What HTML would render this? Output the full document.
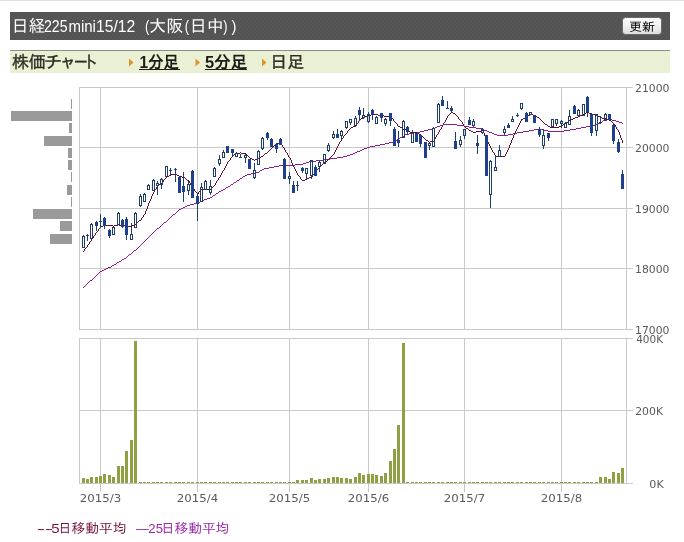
<!DOCTYPE html>
<html lang="ja"><head><meta charset="utf-8"><title>日経225mini15/12 (大阪(日中)) 株価チャート</title>
<style>
html,body{margin:0;padding:0;background:#fff;}
body{width:684px;height:542px;overflow:hidden;position:relative;}
svg{display:block;position:absolute;left:0;top:0;}
text{font-family:"Liberation Sans","IPAPGothic","IPAGothic","Noto Sans CJK JP",sans-serif;}
.ax{font-family:"DejaVu Sans","Liberation Sans",sans-serif;font-size:10.2px;fill:#5a5a5a;}
.g{fill:#c9c9c9;shape-rendering:crispEdges;}
.c{shape-rendering:crispEdges;}
</style></head><body>
<svg width="684" height="542" viewBox="0 0 684 542">
<defs>
<pattern id="st" width="4" height="4" patternUnits="userSpaceOnUse"><rect width="4" height="4" fill="#535353"/><path d="M-1,1 l2,-2 M0,4 l4,-4 M3,5 l2,-2" stroke="#595959" stroke-width="1"/></pattern>
<linearGradient id="bt" x1="0" y1="0" x2="0" y2="1"><stop offset="0" stop-color="#fdfdfd"/><stop offset="0.5" stop-color="#f0f0f0"/><stop offset="1" stop-color="#dcdcdc"/></linearGradient>
</defs>
<rect width="684" height="542" fill="#fff"/>
<rect class="c" x="0" y="0" width="684" height="1" fill="#dedede"/>
<rect class="c" x="10" y="12" width="660" height="28" fill="url(#st)"/>
<text y="31.6" fill="#fff"><tspan x="11.85" font-size="17" textLength="33.43" lengthAdjust="spacingAndGlyphs">日経</tspan><tspan x="44.02" font-size="16" textLength="23.49" lengthAdjust="spacingAndGlyphs">225</tspan><tspan x="68.46" font-size="16" textLength="27.49" lengthAdjust="spacingAndGlyphs">mini</tspan><tspan x="96.02" font-size="16" textLength="43.66" lengthAdjust="spacingAndGlyphs">15/12 </tspan><tspan x="145.00" font-size="16" textLength="4.26" lengthAdjust="spacingAndGlyphs">(</tspan><tspan x="149.09" font-size="17" textLength="34.21" lengthAdjust="spacingAndGlyphs">大阪</tspan><tspan x="184.70" font-size="16" textLength="4.26" lengthAdjust="spacingAndGlyphs">(</tspan><tspan x="189.70" font-size="17" textLength="34.00" lengthAdjust="spacingAndGlyphs">日中</tspan><tspan x="223.30" font-size="16" textLength="4.26" lengthAdjust="spacingAndGlyphs">)</tspan><tspan x="231.60" font-size="16" textLength="4.93" lengthAdjust="spacingAndGlyphs">)</tspan></text>
<rect x="622.5" y="17.5" width="39" height="17" rx="3" ry="3" fill="url(#bt)" stroke="#6a6a6a" stroke-width="1"/>
<text x="628.91" y="31" font-size="12" fill="#000" textLength="26.18" lengthAdjust="spacingAndGlyphs">更新</text>
<rect class="c" x="10" y="50" width="660" height="1" fill="#8e8e84"/>
<rect class="c" x="10" y="51" width="660" height="22" fill="#e9f0d3"/>
<text y="67.6" fill="#2e2e26" stroke="#2e2e26" stroke-width="0.35"><tspan x="11.91" font-size="17" textLength="33.79" lengthAdjust="spacingAndGlyphs">株価</tspan><tspan x="44.51" font-size="17" textLength="16.98" lengthAdjust="spacingAndGlyphs">チ</tspan><tspan x="61.75" font-size="17" textLength="12.17" lengthAdjust="spacingAndGlyphs">ャ</tspan><tspan x="74.18" font-size="17" textLength="13.13" lengthAdjust="spacingAndGlyphs">ー</tspan><tspan x="85.55" font-size="17" textLength="11.47" lengthAdjust="spacingAndGlyphs">ト</tspan></text>
<path d="M129,58.5 L133.5,62.5 L129,66.5 Z" fill="#e0952a"/>
<path d="M195.5,58.5 L200.0,62.5 L195.5,66.5 Z" fill="#e0952a"/>
<path d="M262,58.5 L266.5,62.5 L262,66.5 Z" fill="#e0952a"/>
<text x="139.60" y="67.6" font-size="17" font-weight="bold" fill="#1c1c18" textLength="39.32" lengthAdjust="spacingAndGlyphs">1分足</text>
<rect class="c" x="139" y="69" width="41" height="1" fill="#222"/>
<text x="205.03" y="67.6" font-size="17" font-weight="bold" fill="#1c1c18" textLength="42.11" lengthAdjust="spacingAndGlyphs">5分足</text>
<rect class="c" x="205" y="69" width="42" height="1" fill="#222"/>
<text x="270.31" y="67.6" font-size="17" fill="#2e2e26" stroke="#2e2e26" stroke-width="0.35" textLength="33.89" lengthAdjust="spacingAndGlyphs">日足</text>
<rect class="c" x="71" y="99" width="1" height="10" fill="#9a9a9a"/>
<rect class="c" x="11" y="111" width="61" height="10" fill="#9a9a9a"/>
<rect class="c" x="69" y="123" width="3" height="10" fill="#9a9a9a"/>
<rect class="c" x="44" y="136" width="28" height="10" fill="#9a9a9a"/>
<rect class="c" x="68" y="148" width="4" height="10" fill="#9a9a9a"/>
<rect class="c" x="68" y="160" width="4" height="10" fill="#9a9a9a"/>
<rect class="c" x="71" y="172" width="1" height="10" fill="#9a9a9a"/>
<rect class="c" x="67" y="185" width="5" height="10" fill="#9a9a9a"/>
<rect class="c" x="71" y="197" width="1" height="10" fill="#9a9a9a"/>
<rect class="c" x="33" y="209" width="39" height="10" fill="#9a9a9a"/>
<rect class="c" x="60" y="221" width="12" height="10" fill="#9a9a9a"/>
<rect class="c" x="50" y="234" width="22" height="10" fill="#9a9a9a"/>
<rect class="g" x="79" y="87" width="554" height="1"/>
<rect class="g" x="79" y="147" width="554" height="1"/>
<rect class="g" x="79" y="208" width="554" height="1"/>
<rect class="g" x="79" y="268" width="554" height="1"/>
<rect class="g" x="79" y="329" width="554" height="1"/>
<rect class="g" x="79" y="87" width="1" height="243"/>
<rect class="g" x="100" y="87" width="1" height="243"/>
<rect class="g" x="197" y="87" width="1" height="243"/>
<rect class="g" x="289" y="87" width="1" height="243"/>
<rect class="g" x="368" y="87" width="1" height="243"/>
<rect class="g" x="464" y="87" width="1" height="243"/>
<rect class="g" x="561" y="87" width="1" height="243"/>
<rect class="g" x="626" y="87" width="1" height="243"/>
<rect class="g" x="79" y="338" width="554" height="1"/>
<rect class="g" x="79" y="410" width="554" height="1"/>
<rect class="g" x="79" y="483" width="554" height="1"/>
<rect class="g" x="79" y="338" width="1" height="146"/>
<rect class="g" x="100" y="338" width="1" height="154"/>
<rect class="g" x="197" y="338" width="1" height="154"/>
<rect class="g" x="289" y="338" width="1" height="154"/>
<rect class="g" x="368" y="338" width="1" height="154"/>
<rect class="g" x="464" y="338" width="1" height="154"/>
<rect class="g" x="561" y="338" width="1" height="154"/>
<rect class="g" x="626" y="338" width="1" height="146"/>
<text class="ax" x="635.07" y="92.1" font-size="10.5" fill="#555" textLength="34.45" lengthAdjust="spacingAndGlyphs">21000</text>
<text class="ax" x="635.07" y="152.1" font-size="10.5" fill="#555" textLength="34.45" lengthAdjust="spacingAndGlyphs">20000</text>
<text class="ax" x="635.07" y="213.1" font-size="10.5" fill="#555" textLength="34.45" lengthAdjust="spacingAndGlyphs">19000</text>
<text class="ax" x="635.07" y="273.1" font-size="10.5" fill="#555" textLength="34.45" lengthAdjust="spacingAndGlyphs">18000</text>
<text class="ax" x="635.07" y="334.1" font-size="10.5" fill="#555" textLength="34.45" lengthAdjust="spacingAndGlyphs">17000</text>
<text class="ax" x="636.20" y="342.6" font-size="10.5" fill="#555" textLength="26.83" lengthAdjust="spacingAndGlyphs">400K</text>
<text class="ax" x="635.17" y="414.6" font-size="10.5" fill="#555" textLength="27.86" lengthAdjust="spacingAndGlyphs">200K</text>
<text class="ax" x="649.34" y="487.6" font-size="10.5" fill="#555" textLength="14.36" lengthAdjust="spacingAndGlyphs">0K</text>
<text class="ax" x="79.88" y="501.7" font-size="10.5" fill="#555" textLength="41.37" lengthAdjust="spacingAndGlyphs">2015/3</text>
<text class="ax" x="176.88" y="501.7" font-size="10.5" fill="#555" textLength="41.37" lengthAdjust="spacingAndGlyphs">2015/4</text>
<text class="ax" x="268.88" y="501.7" font-size="10.5" fill="#555" textLength="41.37" lengthAdjust="spacingAndGlyphs">2015/5</text>
<text class="ax" x="347.88" y="501.7" font-size="10.5" fill="#555" textLength="41.37" lengthAdjust="spacingAndGlyphs">2015/6</text>
<text class="ax" x="443.88" y="501.7" font-size="10.5" fill="#555" textLength="41.37" lengthAdjust="spacingAndGlyphs">2015/7</text>
<text class="ax" x="540.88" y="501.7" font-size="10.5" fill="#555" textLength="41.37" lengthAdjust="spacingAndGlyphs">2015/8</text>
<rect class="c" x="82" y="478.0" width="3" height="5.0" fill="#8ea041"/>
<rect class="c" x="86" y="479.0" width="3" height="4.0" fill="#8ea041"/>
<rect class="c" x="90" y="477.0" width="3" height="6.0" fill="#8ea041"/>
<rect class="c" x="95" y="477.0" width="3" height="6.0" fill="#8ea041"/>
<rect class="c" x="99" y="476.0" width="3" height="7.0" fill="#8ea041"/>
<rect class="c" x="103" y="474.0" width="3" height="9.0" fill="#8ea041"/>
<rect class="c" x="108" y="475.0" width="3" height="8.0" fill="#8ea041"/>
<rect class="c" x="112" y="477.0" width="3" height="6.0" fill="#8ea041"/>
<rect class="c" x="117" y="466.0" width="3" height="17.0" fill="#8ea041"/>
<rect class="c" x="121" y="466.0" width="3" height="17.0" fill="#8ea041"/>
<rect class="c" x="125" y="451.0" width="3" height="32.0" fill="#8ea041"/>
<rect class="c" x="130" y="440.0" width="3" height="43.0" fill="#8ea041"/>
<rect class="c" x="134" y="341.0" width="3" height="142.0" fill="#8ea041"/>
<rect class="c" x="139" y="482" width="3" height="1" fill="#8ea041"/>
<rect class="c" x="143" y="482" width="3" height="1" fill="#8ea041"/>
<rect class="c" x="147" y="482" width="3" height="1" fill="#8ea041"/>
<rect class="c" x="152" y="482" width="3" height="1" fill="#8ea041"/>
<rect class="c" x="156" y="482" width="3" height="1" fill="#8ea041"/>
<rect class="c" x="160" y="482" width="3" height="1" fill="#8ea041"/>
<rect class="c" x="165" y="482" width="3" height="1" fill="#8ea041"/>
<rect class="c" x="169" y="482" width="3" height="1" fill="#8ea041"/>
<rect class="c" x="174" y="482" width="3" height="1" fill="#8ea041"/>
<rect class="c" x="178" y="482" width="3" height="1" fill="#8ea041"/>
<rect class="c" x="182" y="482" width="3" height="1" fill="#8ea041"/>
<rect class="c" x="187" y="482" width="3" height="1" fill="#8ea041"/>
<rect class="c" x="191" y="482" width="3" height="1" fill="#8ea041"/>
<rect class="c" x="196" y="482" width="3" height="1" fill="#8ea041"/>
<rect class="c" x="200" y="482" width="3" height="1" fill="#8ea041"/>
<rect class="c" x="204" y="482" width="3" height="1" fill="#8ea041"/>
<rect class="c" x="209" y="482" width="3" height="1" fill="#8ea041"/>
<rect class="c" x="213" y="482" width="3" height="1" fill="#8ea041"/>
<rect class="c" x="218" y="482" width="3" height="1" fill="#8ea041"/>
<rect class="c" x="222" y="482" width="3" height="1" fill="#8ea041"/>
<rect class="c" x="226" y="482" width="3" height="1" fill="#8ea041"/>
<rect class="c" x="231" y="482" width="3" height="1" fill="#8ea041"/>
<rect class="c" x="235" y="482" width="3" height="1" fill="#8ea041"/>
<rect class="c" x="239" y="482" width="3" height="1" fill="#8ea041"/>
<rect class="c" x="244" y="482" width="3" height="1" fill="#8ea041"/>
<rect class="c" x="248" y="482" width="3" height="1" fill="#8ea041"/>
<rect class="c" x="253" y="482" width="3" height="1" fill="#8ea041"/>
<rect class="c" x="257" y="482" width="3" height="1" fill="#8ea041"/>
<rect class="c" x="261" y="482" width="3" height="1" fill="#8ea041"/>
<rect class="c" x="266" y="482" width="3" height="1" fill="#8ea041"/>
<rect class="c" x="270" y="482" width="3" height="1" fill="#8ea041"/>
<rect class="c" x="275" y="482" width="3" height="1" fill="#8ea041"/>
<rect class="c" x="279" y="482" width="3" height="1" fill="#8ea041"/>
<rect class="c" x="283" y="482" width="3" height="1" fill="#8ea041"/>
<rect class="c" x="288" y="482" width="3" height="1" fill="#8ea041"/>
<rect class="c" x="292" y="482" width="3" height="1" fill="#8ea041"/>
<rect class="c" x="296" y="480.0" width="3" height="3.0" fill="#8ea041"/>
<rect class="c" x="301" y="480.0" width="3" height="3.0" fill="#8ea041"/>
<rect class="c" x="305" y="480.0" width="3" height="3.0" fill="#8ea041"/>
<rect class="c" x="310" y="478.0" width="3" height="5.0" fill="#8ea041"/>
<rect class="c" x="314" y="480.0" width="3" height="3.0" fill="#8ea041"/>
<rect class="c" x="318" y="479.0" width="3" height="4.0" fill="#8ea041"/>
<rect class="c" x="323" y="479.0" width="3" height="4.0" fill="#8ea041"/>
<rect class="c" x="327" y="477.5" width="3" height="5.5" fill="#8ea041"/>
<rect class="c" x="332" y="477.0" width="3" height="6.0" fill="#8ea041"/>
<rect class="c" x="336" y="477.0" width="3" height="6.0" fill="#8ea041"/>
<rect class="c" x="340" y="478.0" width="3" height="5.0" fill="#8ea041"/>
<rect class="c" x="345" y="478.0" width="3" height="5.0" fill="#8ea041"/>
<rect class="c" x="349" y="479.0" width="3" height="4.0" fill="#8ea041"/>
<rect class="c" x="354" y="477.0" width="3" height="6.0" fill="#8ea041"/>
<rect class="c" x="358" y="473.0" width="3" height="10.0" fill="#8ea041"/>
<rect class="c" x="362" y="475.0" width="3" height="8.0" fill="#8ea041"/>
<rect class="c" x="367" y="474.0" width="3" height="9.0" fill="#8ea041"/>
<rect class="c" x="371" y="474.0" width="3" height="9.0" fill="#8ea041"/>
<rect class="c" x="375" y="475.0" width="3" height="8.0" fill="#8ea041"/>
<rect class="c" x="380" y="476.0" width="3" height="7.0" fill="#8ea041"/>
<rect class="c" x="384" y="473.0" width="3" height="10.0" fill="#8ea041"/>
<rect class="c" x="389" y="461.0" width="3" height="22.0" fill="#8ea041"/>
<rect class="c" x="393" y="449.0" width="3" height="34.0" fill="#8ea041"/>
<rect class="c" x="397" y="425.0" width="3" height="58.0" fill="#8ea041"/>
<rect class="c" x="402" y="343.0" width="3" height="140.0" fill="#8ea041"/>
<rect class="c" x="406" y="482" width="3" height="1" fill="#8ea041"/>
<rect class="c" x="411" y="482" width="3" height="1" fill="#8ea041"/>
<rect class="c" x="415" y="482" width="3" height="1" fill="#8ea041"/>
<rect class="c" x="419" y="482" width="3" height="1" fill="#8ea041"/>
<rect class="c" x="424" y="482" width="3" height="1" fill="#8ea041"/>
<rect class="c" x="428" y="482" width="3" height="1" fill="#8ea041"/>
<rect class="c" x="432" y="482" width="3" height="1" fill="#8ea041"/>
<rect class="c" x="437" y="482" width="3" height="1" fill="#8ea041"/>
<rect class="c" x="441" y="482" width="3" height="1" fill="#8ea041"/>
<rect class="c" x="446" y="482" width="3" height="1" fill="#8ea041"/>
<rect class="c" x="450" y="482" width="3" height="1" fill="#8ea041"/>
<rect class="c" x="454" y="482" width="3" height="1" fill="#8ea041"/>
<rect class="c" x="459" y="482" width="3" height="1" fill="#8ea041"/>
<rect class="c" x="463" y="482" width="3" height="1" fill="#8ea041"/>
<rect class="c" x="468" y="482" width="3" height="1" fill="#8ea041"/>
<rect class="c" x="472" y="482" width="3" height="1" fill="#8ea041"/>
<rect class="c" x="476" y="482" width="3" height="1" fill="#8ea041"/>
<rect class="c" x="481" y="482" width="3" height="1" fill="#8ea041"/>
<rect class="c" x="485" y="482" width="3" height="1" fill="#8ea041"/>
<rect class="c" x="489" y="482" width="3" height="1" fill="#8ea041"/>
<rect class="c" x="494" y="482" width="3" height="1" fill="#8ea041"/>
<rect class="c" x="498" y="482" width="3" height="1" fill="#8ea041"/>
<rect class="c" x="503" y="482" width="3" height="1" fill="#8ea041"/>
<rect class="c" x="507" y="482" width="3" height="1" fill="#8ea041"/>
<rect class="c" x="511" y="482" width="3" height="1" fill="#8ea041"/>
<rect class="c" x="516" y="482" width="3" height="1" fill="#8ea041"/>
<rect class="c" x="520" y="482" width="3" height="1" fill="#8ea041"/>
<rect class="c" x="525" y="482" width="3" height="1" fill="#8ea041"/>
<rect class="c" x="529" y="482" width="3" height="1" fill="#8ea041"/>
<rect class="c" x="533" y="482" width="3" height="1" fill="#8ea041"/>
<rect class="c" x="538" y="482" width="3" height="1" fill="#8ea041"/>
<rect class="c" x="542" y="482" width="3" height="1" fill="#8ea041"/>
<rect class="c" x="547" y="482" width="3" height="1" fill="#8ea041"/>
<rect class="c" x="551" y="482" width="3" height="1" fill="#8ea041"/>
<rect class="c" x="555" y="482" width="3" height="1" fill="#8ea041"/>
<rect class="c" x="560" y="482" width="3" height="1" fill="#8ea041"/>
<rect class="c" x="564" y="482" width="3" height="1" fill="#8ea041"/>
<rect class="c" x="568" y="482" width="3" height="1" fill="#8ea041"/>
<rect class="c" x="573" y="482" width="3" height="1" fill="#8ea041"/>
<rect class="c" x="577" y="482" width="3" height="1" fill="#8ea041"/>
<rect class="c" x="582" y="482" width="3" height="1" fill="#8ea041"/>
<rect class="c" x="586" y="482" width="3" height="1" fill="#8ea041"/>
<rect class="c" x="590" y="482" width="3" height="1" fill="#8ea041"/>
<rect class="c" x="595" y="482" width="3" height="1" fill="#8ea041"/>
<rect class="c" x="599" y="477.0" width="3" height="6.0" fill="#8ea041"/>
<rect class="c" x="604" y="477.0" width="3" height="6.0" fill="#8ea041"/>
<rect class="c" x="608" y="479.0" width="3" height="4.0" fill="#8ea041"/>
<rect class="c" x="612" y="472.0" width="3" height="11.0" fill="#8ea041"/>
<rect class="c" x="617" y="473.0" width="3" height="10.0" fill="#8ea041"/>
<rect class="c" x="621" y="468.0" width="3" height="15.0" fill="#8ea041"/>
<path class="c" fill="#8a2090" d="M83,287h1v1h-1zM84,286h1v1h-1zM85,285h1v1h-1zM86,284h1v1h-1zM87,283h1v1h-1zM88,282h1v1h-1zM89,281h1v1h-1zM90,280h1v1h-1zM91,280h1v1h-1zM92,279h1v1h-1zM93,278h1v1h-1zM94,277h1v1h-1zM95,276h1v1h-1zM96,275h1v1h-1zM97,274h1v1h-1zM98,273h1v1h-1zM99,272h1v1h-1zM100,271h1v1h-1zM101,271h1v1h-1zM102,270h1v1h-1zM103,270h1v1h-1zM104,269h1v1h-1zM105,269h1v1h-1zM106,268h1v1h-1zM107,268h1v1h-1zM108,267h1v1h-1zM109,267h1v1h-1zM110,267h1v1h-1zM111,266h1v1h-1zM112,265h1v1h-1zM113,265h1v1h-1zM114,264h1v1h-1zM115,264h1v1h-1zM116,263h1v1h-1zM117,262h1v1h-1zM118,262h1v1h-1zM119,261h1v1h-1zM120,261h1v1h-1zM121,260h1v1h-1zM122,259h1v1h-1zM123,259h1v1h-1zM124,258h1v1h-1zM125,258h1v1h-1zM126,257h1v1h-1zM127,256h1v1h-1zM128,255h1v1h-1zM129,254h1v1h-1zM130,254h1v1h-1zM131,253h1v1h-1zM132,252h1v1h-1zM133,251h1v1h-1zM134,250h1v1h-1zM135,250h1v1h-1zM136,249h1v1h-1zM137,248h1v1h-1zM138,247h1v1h-1zM139,246h1v1h-1zM140,245h1v1h-1zM141,244h1v1h-1zM142,243h1v1h-1zM143,242h1v1h-1zM144,241h1v1h-1zM145,240h1v1h-1zM146,239h1v1h-1zM147,238h1v1h-1zM148,237h1v1h-1zM149,236h1v1h-1zM150,235h1v1h-1zM151,234h1v1h-1zM152,233h1v1h-1zM153,232h1v1h-1zM154,231h1v1h-1zM155,230h1v1h-1zM156,229h1v1h-1zM157,228h1v1h-1zM158,228h1v1h-1zM159,227h1v1h-1zM160,226h1v1h-1zM161,225h1v1h-1zM162,224h1v1h-1zM163,223h1v1h-1zM164,222h1v1h-1zM165,222h1v1h-1zM166,221h1v1h-1zM167,220h1v1h-1zM168,219h1v1h-1zM169,218h1v1h-1zM170,217h1v1h-1zM171,216h1v1h-1zM172,215h1v1h-1zM173,214h1v1h-1zM174,214h1v1h-1zM175,213h1v1h-1zM176,212h1v1h-1zM177,211h1v1h-1zM178,210h1v1h-1zM179,209h1v1h-1zM180,209h1v1h-1zM181,208h1v1h-1zM182,208h1v1h-1zM183,207h1v1h-1zM184,207h1v1h-1zM185,206h1v1h-1zM186,206h1v1h-1zM187,205h1v1h-1zM188,205h1v1h-1zM189,205h1v1h-1zM190,204h1v1h-1zM191,204h1v1h-1zM192,204h1v1h-1zM193,204h1v1h-1zM194,203h1v1h-1zM195,203h1v1h-1zM196,203h1v1h-1zM197,203h1v1h-1zM198,202h1v1h-1zM199,202h1v1h-1zM200,201h1v1h-1zM201,201h1v1h-1zM202,200h1v1h-1zM203,200h1v1h-1zM204,199h1v1h-1zM205,199h1v1h-1zM206,199h1v1h-1zM207,198h1v1h-1zM208,198h1v1h-1zM209,198h1v1h-1zM210,197h1v1h-1zM211,197h1v1h-1zM212,196h1v1h-1zM213,195h1v1h-1zM214,195h1v1h-1zM215,194h1v1h-1zM216,193h1v1h-1zM217,193h1v1h-1zM218,192h1v1h-1zM219,191h1v1h-1zM220,191h1v1h-1zM221,190h1v1h-1zM222,190h1v1h-1zM223,189h1v1h-1zM224,189h1v1h-1zM225,188h1v1h-1zM226,187h1v1h-1zM227,187h1v1h-1zM228,186h1v1h-1zM229,186h1v1h-1zM230,185h1v1h-1zM231,184h1v1h-1zM232,184h1v1h-1zM233,183h1v1h-1zM234,182h1v1h-1zM235,182h1v1h-1zM236,181h1v1h-1zM237,180h1v1h-1zM238,180h1v1h-1zM239,179h1v1h-1zM240,178h1v1h-1zM241,178h1v1h-1zM242,177h1v1h-1zM243,176h1v1h-1zM244,176h1v1h-1zM245,175h1v1h-1zM246,175h1v1h-1zM247,174h1v1h-1zM248,174h1v1h-1zM249,174h1v1h-1zM250,174h1v1h-1zM251,173h1v1h-1zM252,173h1v1h-1zM253,173h1v1h-1zM254,173h1v1h-1zM255,172h1v1h-1zM256,172h1v1h-1zM257,172h1v1h-1zM258,172h1v1h-1zM259,171h1v1h-1zM260,170h1v1h-1zM261,170h1v1h-1zM262,169h1v1h-1zM263,169h1v1h-1zM264,168h1v1h-1zM265,168h1v1h-1zM266,168h1v1h-1zM267,168h1v1h-1zM268,168h1v1h-1zM269,167h1v1h-1zM270,167h1v1h-1zM271,167h1v1h-1zM272,167h1v1h-1zM273,167h1v1h-1zM274,166h1v1h-1zM275,166h1v1h-1zM276,166h1v1h-1zM277,166h1v1h-1zM278,166h1v1h-1zM279,165h1v1h-1zM280,165h1v1h-1zM281,165h1v1h-1zM282,165h1v1h-1zM283,165h1v1h-1zM284,165h1v1h-1zM285,165h1v1h-1zM286,165h1v1h-1zM287,165h1v1h-1zM288,165h1v1h-1zM289,165h1v1h-1zM290,165h1v1h-1zM291,165h1v1h-1zM292,165h1v1h-1zM293,165h1v1h-1zM294,165h1v1h-1zM295,164h1v1h-1zM296,164h1v1h-1zM297,164h1v1h-1zM298,164h1v1h-1zM299,164h1v1h-1zM300,164h1v1h-1zM301,164h1v1h-1zM302,164h1v1h-1zM303,163h1v1h-1zM304,163h1v1h-1zM305,163h1v1h-1zM306,162h1v1h-1zM307,162h1v1h-1zM308,162h1v1h-1zM309,161h1v1h-1zM310,161h1v1h-1zM311,161h1v1h-1zM312,161h1v1h-1zM313,161h1v1h-1zM314,161h1v1h-1zM315,161h1v1h-1zM316,160h1v1h-1zM317,160h1v1h-1zM318,160h1v1h-1zM319,160h1v1h-1zM320,160h1v1h-1zM321,160h1v1h-1zM322,160h1v1h-1zM323,160h1v1h-1zM324,159h1v1h-1zM325,159h1v1h-1zM326,159h1v1h-1zM327,159h1v1h-1zM328,159h1v1h-1zM329,159h1v1h-1zM330,158h1v1h-1zM331,158h1v1h-1zM332,158h1v1h-1zM333,158h1v1h-1zM334,158h1v1h-1zM335,158h1v1h-1zM336,158h1v1h-1zM337,157h1v1h-1zM338,157h1v1h-1zM339,157h1v1h-1zM340,157h1v1h-1zM341,157h1v1h-1zM342,157h1v1h-1zM343,156h1v1h-1zM344,156h1v1h-1zM345,156h1v1h-1zM346,156h1v1h-1zM347,155h1v1h-1zM348,155h1v1h-1zM349,155h1v1h-1zM350,154h1v1h-1zM351,154h1v1h-1zM352,154h1v1h-1zM353,153h1v1h-1zM354,153h1v1h-1zM355,152h1v1h-1zM356,152h1v1h-1zM357,151h1v1h-1zM358,151h1v1h-1zM359,151h1v1h-1zM360,150h1v1h-1zM361,150h1v1h-1zM362,149h1v1h-1zM363,149h1v1h-1zM364,148h1v1h-1zM365,148h1v1h-1zM366,148h1v1h-1zM367,147h1v1h-1zM368,147h1v1h-1zM369,147h1v1h-1zM370,146h1v1h-1zM371,146h1v1h-1zM372,146h1v1h-1zM373,146h1v1h-1zM374,146h1v1h-1zM375,145h1v1h-1zM376,145h1v1h-1zM377,145h1v1h-1zM378,145h1v1h-1zM379,145h1v1h-1zM380,144h1v1h-1zM381,144h1v1h-1zM382,144h1v1h-1zM383,144h1v1h-1zM384,144h1v1h-1zM385,143h1v1h-1zM386,143h1v1h-1zM387,143h1v1h-1zM388,143h1v1h-1zM389,142h1v1h-1zM390,142h1v1h-1zM391,142h1v1h-1zM392,142h1v1h-1zM393,142h1v1h-1zM394,141h1v1h-1zM395,141h1v1h-1zM396,140h1v1h-1zM397,139h1v1h-1zM398,139h1v1h-1zM399,138h1v1h-1zM400,137h1v1h-1zM401,137h1v1h-1zM402,136h1v1h-1zM403,136h1v1h-1zM404,135h1v1h-1zM405,134h1v1h-1zM406,134h1v1h-1zM407,134h1v1h-1zM408,134h1v1h-1zM409,133h1v1h-1zM410,133h1v1h-1zM411,133h1v1h-1zM412,132h1v1h-1zM413,132h1v1h-1zM414,132h1v1h-1zM415,132h1v1h-1zM416,132h1v1h-1zM417,132h1v1h-1zM418,132h1v1h-1zM419,132h1v1h-1zM420,131h1v1h-1zM421,131h1v1h-1zM422,131h1v1h-1zM423,131h1v1h-1zM424,130h1v1h-1zM425,130h1v1h-1zM426,130h1v1h-1zM427,130h1v1h-1zM428,129h1v1h-1zM429,129h1v1h-1zM430,129h1v1h-1zM431,129h1v1h-1zM432,128h1v1h-1zM433,128h1v1h-1zM434,128h1v1h-1zM435,127h1v1h-1zM436,127h1v1h-1zM437,126h1v1h-1zM438,126h1v1h-1zM439,126h1v1h-1zM440,125h1v1h-1zM441,125h1v1h-1zM442,125h1v1h-1zM443,124h1v1h-1zM444,124h1v1h-1zM445,124h1v1h-1zM446,124h1v1h-1zM447,124h1v1h-1zM448,124h1v1h-1zM449,124h1v1h-1zM450,124h1v1h-1zM451,124h1v1h-1zM452,124h1v1h-1zM453,124h1v1h-1zM454,124h1v1h-1zM455,124h1v1h-1zM456,124h1v1h-1zM457,125h1v1h-1zM458,125h1v1h-1zM459,125h1v1h-1zM460,125h1v1h-1zM461,125h1v1h-1zM462,125h1v1h-1zM463,125h1v1h-1zM464,126h1v1h-1zM465,126h1v1h-1zM466,126h1v1h-1zM467,126h1v1h-1zM468,126h1v1h-1zM469,127h1v1h-1zM470,127h1v1h-1zM471,127h1v1h-1zM472,127h1v1h-1zM473,127h1v1h-1zM474,127h1v1h-1zM475,127h1v1h-1zM476,128h1v1h-1zM477,128h1v1h-1zM478,128h1v1h-1zM479,128h1v1h-1zM480,128h1v1h-1zM481,128h1v1h-1zM482,129h1v1h-1zM483,129h1v1h-1zM484,130h1v1h-1zM485,130h1v1h-1zM486,130h1v1h-1zM487,131h1v1h-1zM488,131h1v1h-1zM489,132h1v1h-1zM490,132h1v1h-1zM491,132h1v1h-1zM492,133h1v1h-1zM493,133h1v1h-1zM494,134h1v1h-1zM495,134h1v1h-1zM496,134h1v1h-1zM497,135h1v1h-1zM498,135h1v1h-1zM499,135h1v1h-1zM500,135h1v1h-1zM501,135h1v1h-1zM502,135h1v1h-1zM503,135h1v1h-1zM504,135h1v1h-1zM505,135h1v1h-1zM506,135h1v1h-1zM507,135h1v1h-1zM508,134h1v1h-1zM509,134h1v1h-1zM510,134h1v1h-1zM511,134h1v1h-1zM512,134h1v1h-1zM513,133h1v1h-1zM514,133h1v1h-1zM515,133h1v1h-1zM516,133h1v1h-1zM517,132h1v1h-1zM518,132h1v1h-1zM519,132h1v1h-1zM520,132h1v1h-1zM521,132h1v1h-1zM522,132h1v1h-1zM523,131h1v1h-1zM524,131h1v1h-1zM525,131h1v1h-1zM526,131h1v1h-1zM527,131h1v1h-1zM528,131h1v1h-1zM529,130h1v1h-1zM530,130h1v1h-1zM531,130h1v1h-1zM532,130h1v1h-1zM533,130h1v1h-1zM534,129h1v1h-1zM535,129h1v1h-1zM536,129h1v1h-1zM537,129h1v1h-1zM538,129h1v1h-1zM539,129h1v1h-1zM540,129h1v1h-1zM541,129h1v1h-1zM542,129h1v1h-1zM543,129h1v1h-1zM544,130h1v1h-1zM545,130h1v1h-1zM546,130h1v1h-1zM547,130h1v1h-1zM548,131h1v1h-1zM549,131h1v1h-1zM550,131h1v1h-1zM551,131h1v1h-1zM552,131h1v1h-1zM553,131h1v1h-1zM554,131h1v1h-1zM555,131h1v1h-1zM556,131h1v1h-1zM557,131h1v1h-1zM558,131h1v1h-1zM559,131h1v1h-1zM560,131h1v1h-1zM561,131h1v1h-1zM562,131h1v1h-1zM563,131h1v1h-1zM564,130h1v1h-1zM565,130h1v1h-1zM566,130h1v1h-1zM567,130h1v1h-1zM568,130h1v1h-1zM569,130h1v1h-1zM570,129h1v1h-1zM571,129h1v1h-1zM572,129h1v1h-1zM573,129h1v1h-1zM574,129h1v1h-1zM575,129h1v1h-1zM576,128h1v1h-1zM577,128h1v1h-1zM578,128h1v1h-1zM579,128h1v1h-1zM580,128h1v1h-1zM581,127h1v1h-1zM582,127h1v1h-1zM583,127h1v1h-1zM584,127h1v1h-1zM585,127h1v1h-1zM586,126h1v1h-1zM587,126h1v1h-1zM588,126h1v1h-1zM589,126h1v1h-1zM590,126h1v1h-1zM591,125h1v1h-1zM592,125h1v1h-1zM593,125h1v1h-1zM594,125h1v1h-1zM595,124h1v1h-1zM596,124h1v1h-1zM597,124h1v1h-1zM598,123h1v1h-1zM599,123h1v1h-1zM600,122h1v1h-1zM601,122h1v1h-1zM602,121h1v1h-1zM603,120h1v1h-1zM604,120h1v1h-1zM605,120h1v1h-1zM606,120h1v1h-1zM607,119h1v1h-1zM608,119h1v1h-1zM609,119h1v1h-1zM610,119h1v1h-1zM611,119h1v1h-1zM612,120h1v1h-1zM613,120h1v1h-1zM614,120h1v1h-1zM615,120h1v1h-1zM616,121h1v1h-1zM617,121h1v1h-1zM618,121h1v1h-1zM619,122h1v1h-1zM620,122h1v1h-1zM621,122h1v1h-1zM622,123h1v1h-1z"/>
<path class="c" fill="#5e0f33" d="M83,251h1v1h-1zM84,249h1v2h-1zM85,248h1v1h-1zM86,247h1v1h-1zM87,245h1v2h-1zM88,244h1v1h-1zM89,242h1v2h-1zM90,241h1v1h-1zM91,239h1v2h-1zM92,238h1v1h-1zM93,236h1v2h-1zM94,235h1v1h-1zM95,233h1v2h-1zM96,232h1v1h-1zM97,231h1v1h-1zM98,229h1v2h-1zM99,228h1v1h-1zM100,226h1v2h-1zM101,226h1v1h-1zM102,226h1v1h-1zM103,225h1v1h-1zM104,225h1v1h-1zM105,225h1v1h-1zM106,225h1v1h-1zM107,225h1v1h-1zM108,225h1v1h-1zM109,225h1v1h-1zM110,225h1v1h-1zM111,225h1v1h-1zM112,225h1v1h-1zM113,226h1v1h-1zM114,225h1v1h-1zM115,225h1v1h-1zM116,225h1v1h-1zM117,225h1v1h-1zM118,224h1v1h-1zM119,225h1v1h-1zM120,225h1v1h-1zM121,225h1v1h-1zM122,225h1v1h-1zM123,225h1v1h-1zM124,225h1v1h-1zM125,226h1v1h-1zM126,226h1v1h-1zM127,226h1v1h-1zM128,226h1v1h-1zM129,226h1v1h-1zM130,226h1v1h-1zM131,226h1v1h-1zM132,225h1v1h-1zM133,225h1v1h-1zM134,224h1v1h-1zM135,224h1v1h-1zM136,223h1v1h-1zM137,222h1v1h-1zM138,221h1v1h-1zM139,220h1v1h-1zM140,220h1v1h-1zM141,218h1v2h-1zM142,217h1v1h-1zM143,215h1v2h-1zM144,214h1v1h-1zM145,211h1v3h-1zM146,209h1v2h-1zM147,206h1v3h-1zM148,203h1v3h-1zM149,201h1v2h-1zM150,199h1v2h-1zM151,196h1v3h-1zM152,194h1v2h-1zM153,192h1v2h-1zM154,190h1v2h-1zM155,189h1v1h-1zM156,187h1v2h-1zM157,186h1v1h-1zM158,185h1v1h-1zM159,184h1v1h-1zM160,184h1v1h-1zM161,183h1v1h-1zM162,182h1v1h-1zM163,180h1v2h-1zM164,179h1v1h-1zM165,178h1v1h-1zM166,177h1v1h-1zM167,176h1v1h-1zM168,176h1v1h-1zM169,175h1v1h-1zM170,175h1v1h-1zM171,174h1v1h-1zM172,174h1v1h-1zM173,174h1v1h-1zM174,174h1v1h-1zM175,174h1v1h-1zM176,174h1v1h-1zM177,175h1v1h-1zM178,175h1v1h-1zM179,176h1v1h-1zM180,176h1v1h-1zM181,176h1v1h-1zM182,177h1v1h-1zM183,177h1v1h-1zM184,177h1v1h-1zM185,178h1v1h-1zM186,179h1v1h-1zM187,180h1v1h-1zM188,180h1v1h-1zM189,181h1v2h-1zM190,183h1v2h-1zM191,185h1v1h-1zM192,186h1v2h-1zM193,188h1v1h-1zM194,189h1v2h-1zM195,191h1v1h-1zM196,192h1v1h-1zM197,193h1v2h-1zM198,192h1v2h-1zM199,191h1v1h-1zM200,190h1v1h-1zM201,189h1v1h-1zM202,189h1v1h-1zM203,189h1v1h-1zM204,189h1v1h-1zM205,189h1v1h-1zM206,189h1v1h-1zM207,189h1v1h-1zM208,189h1v1h-1zM209,189h1v1h-1zM210,189h1v1h-1zM211,188h1v1h-1zM212,187h1v1h-1zM213,186h1v1h-1zM214,185h1v1h-1zM215,183h1v2h-1zM216,181h1v2h-1zM217,180h1v1h-1zM218,178h1v2h-1zM219,177h1v1h-1zM220,175h1v2h-1zM221,173h1v2h-1zM222,171h1v2h-1zM223,170h1v1h-1zM224,168h1v2h-1zM225,166h1v2h-1zM226,164h1v2h-1zM227,162h1v2h-1zM228,161h1v1h-1zM229,160h1v1h-1zM230,158h1v2h-1zM231,157h1v1h-1zM232,155h1v2h-1zM233,155h1v1h-1zM234,154h1v1h-1zM235,153h1v1h-1zM236,153h1v1h-1zM237,153h1v1h-1zM238,153h1v1h-1zM239,153h1v1h-1zM240,152h1v1h-1zM241,153h1v1h-1zM242,153h1v1h-1zM243,153h1v1h-1zM244,153h1v1h-1zM245,153h1v1h-1zM246,154h1v1h-1zM247,155h1v1h-1zM248,156h1v1h-1zM249,157h1v1h-1zM250,158h1v1h-1zM251,158h1v1h-1zM252,159h1v1h-1zM253,159h1v1h-1zM254,160h1v1h-1zM255,159h1v1h-1zM256,159h1v1h-1zM257,158h1v1h-1zM258,158h1v1h-1zM259,157h1v1h-1zM260,157h1v1h-1zM261,156h1v1h-1zM262,156h1v1h-1zM263,155h1v1h-1zM264,154h1v1h-1zM265,153h1v1h-1zM266,153h1v1h-1zM267,152h1v1h-1zM268,151h1v1h-1zM269,150h1v1h-1zM270,149h1v1h-1zM271,148h1v1h-1zM272,147h1v1h-1zM273,146h1v1h-1zM274,145h1v1h-1zM275,144h1v1h-1zM276,143h1v1h-1zM277,143h1v1h-1zM278,143h1v1h-1zM279,142h1v1h-1zM280,142h1v1h-1zM281,143h1v2h-1zM282,145h1v2h-1zM283,147h1v1h-1zM284,148h1v2h-1zM285,150h1v2h-1zM286,152h1v1h-1zM287,153h1v2h-1zM288,155h1v2h-1zM289,157h1v1h-1zM290,158h1v2h-1zM291,160h1v3h-1zM292,163h1v2h-1zM293,165h1v2h-1zM294,167h1v2h-1zM295,169h1v2h-1zM296,171h1v2h-1zM297,173h1v2h-1zM298,175h1v1h-1zM299,176h1v1h-1zM300,177h1v2h-1zM301,179h1v1h-1zM302,180h1v1h-1zM303,180h1v1h-1zM304,180h1v1h-1zM305,179h1v1h-1zM306,179h1v1h-1zM307,178h1v1h-1zM308,178h1v1h-1zM309,177h1v1h-1zM310,177h1v1h-1zM311,177h1v1h-1zM312,175h1v2h-1zM313,174h1v1h-1zM314,173h1v1h-1zM315,171h1v2h-1zM316,170h1v1h-1zM317,169h1v1h-1zM318,168h1v1h-1zM319,167h1v1h-1zM320,166h1v1h-1zM321,165h1v1h-1zM322,164h1v1h-1zM323,163h1v1h-1zM324,162h1v1h-1zM325,161h1v1h-1zM326,161h1v1h-1zM327,160h1v1h-1zM328,159h1v1h-1zM329,158h1v1h-1zM330,157h1v1h-1zM331,156h1v1h-1zM332,155h1v1h-1zM333,154h1v1h-1zM334,152h1v2h-1zM335,150h1v2h-1zM336,148h1v2h-1zM337,146h1v2h-1zM338,144h1v2h-1zM339,142h1v2h-1zM340,141h1v1h-1zM341,139h1v2h-1zM342,138h1v1h-1zM343,136h1v2h-1zM344,135h1v1h-1zM345,134h1v1h-1zM346,133h1v1h-1zM347,131h1v2h-1zM348,130h1v1h-1zM349,129h1v1h-1zM350,128h1v1h-1zM351,127h1v1h-1zM352,127h1v1h-1zM353,126h1v1h-1zM354,126h1v1h-1zM355,125h1v1h-1zM356,124h1v1h-1zM357,123h1v1h-1zM358,121h1v2h-1zM359,120h1v1h-1zM360,119h1v1h-1zM361,118h1v1h-1zM362,118h1v1h-1zM363,117h1v1h-1zM364,117h1v1h-1zM365,116h1v1h-1zM366,116h1v1h-1zM367,116h1v1h-1zM368,115h1v1h-1zM369,115h1v1h-1zM370,115h1v1h-1zM371,114h1v1h-1zM372,114h1v1h-1zM373,114h1v1h-1zM374,114h1v1h-1zM375,114h1v1h-1zM376,114h1v1h-1zM377,114h1v1h-1zM378,115h1v1h-1zM379,115h1v1h-1zM380,115h1v1h-1zM381,115h1v1h-1zM382,115h1v1h-1zM383,115h1v1h-1zM384,116h1v1h-1zM385,116h1v1h-1zM386,116h1v1h-1zM387,116h1v1h-1zM388,116h1v1h-1zM389,116h1v1h-1zM390,116h1v1h-1zM391,117h1v1h-1zM392,118h1v1h-1zM393,119h1v2h-1zM394,121h1v1h-1zM395,122h1v1h-1zM396,123h1v1h-1zM397,124h1v2h-1zM398,126h1v1h-1zM399,126h1v1h-1zM400,127h1v1h-1zM401,127h1v1h-1zM402,128h1v1h-1zM403,129h1v1h-1zM404,129h1v1h-1zM405,129h1v1h-1zM406,130h1v1h-1zM407,130h1v1h-1zM408,131h1v1h-1zM409,131h1v1h-1zM410,132h1v1h-1zM411,132h1v1h-1zM412,132h1v1h-1zM413,132h1v1h-1zM414,132h1v1h-1zM415,132h1v1h-1zM416,132h1v1h-1zM417,133h1v1h-1zM418,133h1v1h-1zM419,134h1v1h-1zM420,134h1v1h-1zM421,135h1v1h-1zM422,136h1v1h-1zM423,137h1v1h-1zM424,138h1v1h-1zM425,139h1v1h-1zM426,140h1v1h-1zM427,140h1v1h-1zM428,141h1v1h-1zM429,142h1v1h-1zM430,141h1v1h-1zM431,141h1v1h-1zM432,141h1v1h-1zM433,141h1v1h-1zM434,139h1v2h-1zM435,137h1v2h-1zM436,135h1v2h-1zM437,134h1v1h-1zM438,132h1v2h-1zM439,130h1v2h-1zM440,129h1v1h-1zM441,127h1v2h-1zM442,125h1v2h-1zM443,123h1v2h-1zM444,122h1v1h-1zM445,120h1v2h-1zM446,118h1v2h-1zM447,116h1v2h-1zM448,115h1v1h-1zM449,114h1v1h-1zM450,113h1v1h-1zM451,112h1v1h-1zM452,112h1v1h-1zM453,113h1v1h-1zM454,113h1v1h-1zM455,114h1v1h-1zM456,115h1v1h-1zM457,116h1v1h-1zM458,117h1v2h-1zM459,119h1v1h-1zM460,120h1v1h-1zM461,121h1v1h-1zM462,122h1v2h-1zM463,124h1v2h-1zM464,126h1v1h-1zM465,127h1v1h-1zM466,128h1v1h-1zM467,128h1v1h-1zM468,129h1v1h-1zM469,130h1v1h-1zM470,130h1v1h-1zM471,131h1v1h-1zM472,131h1v1h-1zM473,132h1v1h-1zM474,132h1v1h-1zM475,132h1v1h-1zM476,131h1v1h-1zM477,131h1v1h-1zM478,131h1v1h-1zM479,131h1v1h-1zM480,131h1v1h-1zM481,130h1v1h-1zM482,130h1v1h-1zM483,131h1v2h-1zM484,133h1v3h-1zM485,136h1v2h-1zM486,138h1v2h-1zM487,140h1v2h-1zM488,142h1v2h-1zM489,144h1v2h-1zM490,146h1v2h-1zM491,148h1v2h-1zM492,150h1v2h-1zM493,152h1v1h-1zM494,153h1v2h-1zM495,155h1v2h-1zM496,156h1v1h-1zM497,156h1v1h-1zM498,156h1v1h-1zM499,156h1v1h-1zM500,156h1v1h-1zM501,156h1v1h-1zM502,156h1v1h-1zM503,156h1v1h-1zM504,156h1v1h-1zM505,154h1v2h-1zM506,152h1v2h-1zM507,150h1v2h-1zM508,148h1v2h-1zM509,145h1v3h-1zM510,143h1v2h-1zM511,140h1v3h-1zM512,138h1v2h-1zM513,135h1v3h-1zM514,133h1v2h-1zM515,131h1v2h-1zM516,129h1v2h-1zM517,127h1v2h-1zM518,125h1v2h-1zM519,123h1v2h-1zM520,121h1v2h-1zM521,119h1v2h-1zM522,119h1v1h-1zM523,118h1v1h-1zM524,118h1v1h-1zM525,117h1v1h-1zM526,117h1v1h-1zM527,116h1v1h-1zM528,115h1v1h-1zM529,115h1v1h-1zM530,114h1v1h-1zM531,114h1v1h-1zM532,114h1v1h-1zM533,115h1v1h-1zM534,115h1v1h-1zM535,115h1v1h-1zM536,116h1v1h-1zM537,117h1v1h-1zM538,117h1v1h-1zM539,118h1v1h-1zM540,119h1v1h-1zM541,120h1v1h-1zM542,121h1v1h-1zM543,122h1v1h-1zM544,123h1v1h-1zM545,124h1v1h-1zM546,124h1v1h-1zM547,125h1v1h-1zM548,126h1v1h-1zM549,126h1v1h-1zM550,127h1v1h-1zM551,127h1v1h-1zM552,127h1v1h-1zM553,127h1v1h-1zM554,127h1v1h-1zM555,127h1v1h-1zM556,127h1v1h-1zM557,127h1v1h-1zM558,127h1v1h-1zM559,126h1v1h-1zM560,126h1v1h-1zM561,126h1v1h-1zM562,125h1v1h-1zM563,124h1v1h-1zM564,124h1v1h-1zM565,123h1v1h-1zM566,122h1v1h-1zM567,122h1v1h-1zM568,121h1v1h-1zM569,120h1v1h-1zM570,119h1v1h-1zM571,119h1v1h-1zM572,119h1v1h-1zM573,118h1v1h-1zM574,118h1v1h-1zM575,117h1v1h-1zM576,117h1v1h-1zM577,117h1v1h-1zM578,116h1v1h-1zM579,116h1v1h-1zM580,115h1v1h-1zM581,115h1v1h-1zM582,114h1v1h-1zM583,114h1v1h-1zM584,113h1v1h-1zM585,113h1v1h-1zM586,112h1v1h-1zM587,112h1v1h-1zM588,112h1v1h-1zM589,113h1v1h-1zM590,113h1v1h-1zM591,113h1v1h-1zM592,114h1v1h-1zM593,114h1v1h-1zM594,114h1v1h-1zM595,114h1v1h-1zM596,115h1v1h-1zM597,115h1v1h-1zM598,116h1v1h-1zM599,116h1v1h-1zM600,117h1v1h-1zM601,117h1v1h-1zM602,118h1v1h-1zM603,118h1v1h-1zM604,119h1v1h-1zM605,119h1v1h-1zM606,119h1v1h-1zM607,119h1v1h-1zM608,119h1v1h-1zM609,120h1v1h-1zM610,120h1v1h-1zM611,121h1v1h-1zM612,122h1v1h-1zM613,123h1v1h-1zM614,124h1v1h-1zM615,125h1v2h-1zM616,127h1v2h-1zM617,129h1v1h-1zM618,130h1v2h-1zM619,132h1v3h-1zM620,135h1v3h-1zM621,138h1v2h-1zM622,140h1v3h-1z"/>
<rect class="c" x="83" y="235.0" width="1" height="0.5" fill="#1f3e6a"/>
<path class="c" fill-rule="evenodd" fill="#1f3e6a" d="M82,235.5h3v12.0h-3zM83,236.5h1v10.0h-1z"/>
<rect class="c" x="87" y="233.5" width="1" height="7.5" fill="#1f3e6a"/>
<rect class="c" x="86" y="234.5" width="3" height="1.0" fill="#1d3f8c"/>
<rect class="c" x="91" y="223.0" width="1" height="0.5" fill="#1f3e6a"/>
<path class="c" fill-rule="evenodd" fill="#1f3e6a" d="M90,223.5h3v15.5h-3zM91,224.5h1v13.5h-1z"/>
<rect class="c" x="96" y="221.0" width="1" height="9.5" fill="#1f3e6a"/>
<rect class="c" x="95" y="221.5" width="3" height="4.5" fill="#1d3f8c"/>
<rect class="c" x="100" y="214.0" width="1" height="13.5" fill="#1f3e6a"/>
<rect class="c" x="99" y="221.0" width="3" height="1.0" fill="#1d3f8c"/>
<rect class="c" x="104" y="217.0" width="1" height="12.0" fill="#1f3e6a"/>
<rect class="c" x="103" y="217.5" width="3" height="8.0" fill="#1d3f8c"/>
<rect class="c" x="109" y="228.5" width="1" height="9.0" fill="#1f3e6a"/>
<rect class="c" x="108" y="229.5" width="3" height="6.0" fill="#1d3f8c"/>
<rect class="c" x="113" y="226.5" width="1" height="0.5" fill="#1f3e6a"/>
<path class="c" fill-rule="evenodd" fill="#1f3e6a" d="M112,227.0h3v7.5h-3zM113,228.0h1v5.5h-1z"/>
<rect class="c" x="118" y="212.0" width="1" height="1.0" fill="#1f3e6a"/>
<path class="c" fill-rule="evenodd" fill="#1f3e6a" d="M117,213.0h3v11.5h-3zM118,214.0h1v9.5h-1z"/>
<rect class="c" x="122" y="219.0" width="1" height="9.0" fill="#1f3e6a"/>
<rect class="c" x="121" y="220.0" width="3" height="7.0" fill="#1d3f8c"/>
<rect class="c" x="126" y="217.0" width="1" height="22.5" fill="#1f3e6a"/>
<rect class="c" x="125" y="218.5" width="3" height="16.5" fill="#1d3f8c"/>
<rect class="c" x="131" y="222.5" width="1" height="11.5" fill="#1f3e6a"/>
<path class="c" fill-rule="evenodd" fill="#1f3e6a" d="M130,234.0h3v5.5h-3zM131,235.0h1v3.5h-1z"/>
<rect class="c" x="135" y="212.0" width="1" height="0.5" fill="#1f3e6a"/>
<path class="c" fill-rule="evenodd" fill="#1f3e6a" d="M134,212.5h3v15.0h-3zM135,213.5h1v13.0h-1z"/>
<rect class="c" x="140" y="194.0" width="1" height="2.0" fill="#1f3e6a"/>
<rect class="c" x="140" y="206.0" width="1" height="1.0" fill="#1f3e6a"/>
<path class="c" fill-rule="evenodd" fill="#1f3e6a" d="M139,196.0h3v10.0h-3zM140,197.0h1v8.0h-1z"/>
<rect class="c" x="144" y="193.0" width="1" height="0.5" fill="#1f3e6a"/>
<path class="c" fill-rule="evenodd" fill="#1f3e6a" d="M143,193.5h3v8.0h-3zM144,194.5h1v6.0h-1z"/>
<rect class="c" x="148" y="184.0" width="1" height="0.5" fill="#1f3e6a"/>
<path class="c" fill-rule="evenodd" fill="#1f3e6a" d="M147,184.5h3v5.5h-3zM148,185.5h1v3.5h-1z"/>
<rect class="c" x="153" y="179.0" width="1" height="0.5" fill="#1f3e6a"/>
<path class="c" fill-rule="evenodd" fill="#1f3e6a" d="M152,179.5h3v11.0h-3zM153,180.5h1v9.0h-1z"/>
<rect class="c" x="157" y="180.5" width="1" height="2.0" fill="#1f3e6a"/>
<rect class="c" x="157" y="186.0" width="1" height="8.5" fill="#1f3e6a"/>
<path class="c" fill-rule="evenodd" fill="#1f3e6a" d="M156,182.5h3v3.5h-3zM157,183.5h1v1.5h-1z"/>
<rect class="c" x="161" y="177.5" width="1" height="1.5" fill="#1f3e6a"/>
<rect class="c" x="161" y="185.0" width="1" height="4.0" fill="#1f3e6a"/>
<path class="c" fill-rule="evenodd" fill="#1f3e6a" d="M160,179.0h3v6.0h-3zM161,180.0h1v4.0h-1z"/>
<rect class="c" x="166" y="165.5" width="1" height="0.5" fill="#1f3e6a"/>
<path class="c" fill-rule="evenodd" fill="#1f3e6a" d="M165,166.0h3v10.5h-3zM166,167.0h1v8.5h-1z"/>
<rect class="c" x="170" y="167.5" width="1" height="7.5" fill="#1f3e6a"/>
<rect class="c" x="169" y="169.5" width="3" height="1.0" fill="#1d3f8c"/>
<rect class="c" x="175" y="168.0" width="1" height="13.5" fill="#1f3e6a"/>
<rect class="c" x="174" y="169.0" width="3" height="1.0" fill="#1d3f8c"/>
<rect class="c" x="179" y="176.5" width="1" height="16.0" fill="#1f3e6a"/>
<rect class="c" x="178" y="177.0" width="3" height="15.5" fill="#1d3f8c"/>
<rect class="c" x="183" y="172.0" width="1" height="29.5" fill="#1f3e6a"/>
<rect class="c" x="182" y="185.5" width="3" height="6.5" fill="#1d3f8c"/>
<rect class="c" x="188" y="181.0" width="1" height="3.0" fill="#1f3e6a"/>
<rect class="c" x="188" y="191.0" width="1" height="4.0" fill="#1f3e6a"/>
<path class="c" fill-rule="evenodd" fill="#1f3e6a" d="M187,184.0h3v7.0h-3zM188,185.0h1v5.0h-1z"/>
<rect class="c" x="192" y="170.0" width="1" height="27.5" fill="#1f3e6a"/>
<rect class="c" x="191" y="170.5" width="3" height="27.0" fill="#1d3f8c"/>
<rect class="c" x="197" y="195.0" width="1" height="26.3" fill="#1f3e6a"/>
<rect class="c" x="196" y="195.5" width="3" height="8.0" fill="#1d3f8c"/>
<rect class="c" x="201" y="183.0" width="1" height="4.0" fill="#1f3e6a"/>
<path class="c" fill-rule="evenodd" fill="#1f3e6a" d="M200,187.0h3v14.5h-3zM201,188.0h1v12.5h-1z"/>
<rect class="c" x="205" y="180.0" width="1" height="0.5" fill="#1f3e6a"/>
<path class="c" fill-rule="evenodd" fill="#1f3e6a" d="M204,180.5h3v9.0h-3zM205,181.5h1v7.0h-1z"/>
<rect class="c" x="210" y="180.0" width="1" height="5.5" fill="#1f3e6a"/>
<rect class="c" x="210" y="192.5" width="1" height="2.5" fill="#1f3e6a"/>
<path class="c" fill-rule="evenodd" fill="#1f3e6a" d="M209,185.5h3v7.0h-3zM210,186.5h1v5.0h-1z"/>
<rect class="c" x="214" y="167.0" width="1" height="0.5" fill="#1f3e6a"/>
<path class="c" fill-rule="evenodd" fill="#1f3e6a" d="M213,167.5h3v9.5h-3zM214,168.5h1v7.5h-1z"/>
<rect class="c" x="219" y="155.0" width="1" height="4.0" fill="#1f3e6a"/>
<rect class="c" x="219" y="164.0" width="1" height="2.0" fill="#1f3e6a"/>
<path class="c" fill-rule="evenodd" fill="#1f3e6a" d="M218,159.0h3v5.0h-3zM219,160.0h1v3.0h-1z"/>
<rect class="c" x="223" y="150.0" width="1" height="2.0" fill="#1f3e6a"/>
<rect class="c" x="223" y="157.5" width="1" height="0.5" fill="#1f3e6a"/>
<path class="c" fill-rule="evenodd" fill="#1f3e6a" d="M222,152.0h3v5.5h-3zM223,153.0h1v3.5h-1z"/>
<rect class="c" x="227" y="146.0" width="1" height="7.3" fill="#1f3e6a"/>
<rect class="c" x="226" y="146.0" width="3" height="7.3" fill="#1d3f8c"/>
<rect class="c" x="232" y="149.3" width="1" height="7.2" fill="#1f3e6a"/>
<rect class="c" x="231" y="149.3" width="3" height="3.3" fill="#1d3f8c"/>
<rect class="c" x="236" y="152.0" width="1" height="1.0" fill="#1f3e6a"/>
<path class="c" fill-rule="evenodd" fill="#1f3e6a" d="M235,153.0h3v3.5h-3zM236,154.0h1v1.5h-1z"/>
<rect class="c" x="240" y="153.5" width="1" height="4.5" fill="#1f3e6a"/>
<rect class="c" x="239" y="157.0" width="3" height="1.0" fill="#1d3f8c"/>
<rect class="c" x="245" y="153.5" width="1" height="1.0" fill="#1f3e6a"/>
<rect class="c" x="245" y="157.5" width="1" height="5.0" fill="#1f3e6a"/>
<path class="c" fill-rule="evenodd" fill="#1f3e6a" d="M244,154.5h3v3.0h-3zM245,155.5h1v1.0h-1z"/>
<rect class="c" x="249" y="158.5" width="1" height="10.0" fill="#1f3e6a"/>
<rect class="c" x="248" y="159.0" width="3" height="9.5" fill="#1d3f8c"/>
<rect class="c" x="254" y="163.0" width="1" height="6.5" fill="#1f3e6a"/>
<rect class="c" x="254" y="177.5" width="1" height="1.0" fill="#1f3e6a"/>
<path class="c" fill-rule="evenodd" fill="#1f3e6a" d="M253,169.5h3v8.0h-3zM254,170.5h1v6.0h-1z"/>
<rect class="c" x="258" y="150.0" width="1" height="0.5" fill="#1f3e6a"/>
<path class="c" fill-rule="evenodd" fill="#1f3e6a" d="M257,150.5h3v14.0h-3zM258,151.5h1v12.0h-1z"/>
<rect class="c" x="262" y="136.5" width="1" height="1.0" fill="#1f3e6a"/>
<rect class="c" x="262" y="148.5" width="1" height="1.0" fill="#1f3e6a"/>
<path class="c" fill-rule="evenodd" fill="#1f3e6a" d="M261,137.5h3v11.0h-3zM262,138.5h1v9.0h-1z"/>
<rect class="c" x="267" y="132.0" width="1" height="7.5" fill="#1f3e6a"/>
<rect class="c" x="266" y="132.5" width="3" height="5.5" fill="#1d3f8c"/>
<rect class="c" x="271" y="138.0" width="1" height="8.5" fill="#1f3e6a"/>
<rect class="c" x="270" y="138.5" width="3" height="8.0" fill="#1d3f8c"/>
<rect class="c" x="276" y="143.0" width="1" height="9.5" fill="#1f3e6a"/>
<rect class="c" x="275" y="144.0" width="3" height="5.0" fill="#1d3f8c"/>
<rect class="c" x="280" y="138.0" width="1" height="7.0" fill="#1f3e6a"/>
<rect class="c" x="279" y="138.5" width="3" height="6.5" fill="#1d3f8c"/>
<rect class="c" x="284" y="158.0" width="1" height="20.5" fill="#1f3e6a"/>
<rect class="c" x="283" y="158.5" width="3" height="20.0" fill="#1d3f8c"/>
<rect class="c" x="289" y="172.0" width="1" height="3.5" fill="#1f3e6a"/>
<rect class="c" x="289" y="178.5" width="1" height="5.0" fill="#1f3e6a"/>
<path class="c" fill-rule="evenodd" fill="#1f3e6a" d="M288,175.5h3v3.0h-3zM289,176.5h1v1.0h-1z"/>
<rect class="c" x="293" y="181.0" width="1" height="11.5" fill="#1f3e6a"/>
<rect class="c" x="292" y="185.4" width="3" height="7.1" fill="#1d3f8c"/>
<rect class="c" x="297" y="180.5" width="1" height="10.5" fill="#1f3e6a"/>
<rect class="c" x="296" y="184.5" width="3" height="1.0" fill="#1d3f8c"/>
<rect class="c" x="302" y="166.5" width="1" height="6.0" fill="#1f3e6a"/>
<rect class="c" x="301" y="168.0" width="3" height="3.0" fill="#1d3f8c"/>
<rect class="c" x="306" y="167.5" width="1" height="0.5" fill="#1f3e6a"/>
<rect class="c" x="306" y="174.0" width="1" height="5.0" fill="#1f3e6a"/>
<path class="c" fill-rule="evenodd" fill="#1f3e6a" d="M305,168.0h3v6.0h-3zM306,169.0h1v4.0h-1z"/>
<rect class="c" x="311" y="159.5" width="1" height="0.5" fill="#1f3e6a"/>
<rect class="c" x="311" y="175.5" width="1" height="3.0" fill="#1f3e6a"/>
<path class="c" fill-rule="evenodd" fill="#1f3e6a" d="M310,160.0h3v15.5h-3zM311,161.0h1v13.5h-1z"/>
<rect class="c" x="315" y="164.5" width="1" height="11.0" fill="#1f3e6a"/>
<rect class="c" x="314" y="166.5" width="3" height="9.0" fill="#1d3f8c"/>
<rect class="c" x="319" y="160.5" width="1" height="1.5" fill="#1f3e6a"/>
<rect class="c" x="319" y="166.5" width="1" height="5.5" fill="#1f3e6a"/>
<path class="c" fill-rule="evenodd" fill="#1f3e6a" d="M318,162.0h3v4.5h-3zM319,163.0h1v2.5h-1z"/>
<rect class="c" x="324" y="153.5" width="1" height="0.9" fill="#1f3e6a"/>
<path class="c" fill-rule="evenodd" fill="#1f3e6a" d="M323,154.4h3v9.8h-3zM324,155.4h1v7.8h-1z"/>
<rect class="c" x="328" y="142.5" width="1" height="2.5" fill="#1f3e6a"/>
<rect class="c" x="328" y="151.0" width="1" height="1.0" fill="#1f3e6a"/>
<path class="c" fill-rule="evenodd" fill="#1f3e6a" d="M327,145.0h3v6.0h-3zM328,146.0h1v4.0h-1z"/>
<rect class="c" x="333" y="130.5" width="1" height="3.5" fill="#1f3e6a"/>
<rect class="c" x="333" y="138.0" width="1" height="0.5" fill="#1f3e6a"/>
<path class="c" fill-rule="evenodd" fill="#1f3e6a" d="M332,134.0h3v4.0h-3zM333,135.0h1v2.0h-1z"/>
<rect class="c" x="337" y="128.5" width="1" height="9.5" fill="#1f3e6a"/>
<rect class="c" x="336" y="133.5" width="3" height="4.0" fill="#1d3f8c"/>
<rect class="c" x="341" y="130.0" width="1" height="1.0" fill="#1f3e6a"/>
<rect class="c" x="341" y="135.5" width="1" height="4.5" fill="#1f3e6a"/>
<path class="c" fill-rule="evenodd" fill="#1f3e6a" d="M340,131.0h3v4.5h-3zM341,132.0h1v2.5h-1z"/>
<rect class="c" x="346" y="120.5" width="1" height="0.8" fill="#1f3e6a"/>
<rect class="c" x="346" y="128.0" width="1" height="0.8" fill="#1f3e6a"/>
<path class="c" fill-rule="evenodd" fill="#1f3e6a" d="M345,121.3h3v6.7h-3zM346,122.3h1v4.7h-1z"/>
<rect class="c" x="350" y="118.5" width="1" height="0.5" fill="#1f3e6a"/>
<rect class="c" x="350" y="122.5" width="1" height="2.5" fill="#1f3e6a"/>
<path class="c" fill-rule="evenodd" fill="#1f3e6a" d="M349,119.0h3v3.5h-3zM350,120.0h1v1.5h-1z"/>
<rect class="c" x="355" y="116.0" width="1" height="2.0" fill="#1f3e6a"/>
<rect class="c" x="355" y="125.5" width="1" height="1.5" fill="#1f3e6a"/>
<path class="c" fill-rule="evenodd" fill="#1f3e6a" d="M354,118.0h3v7.5h-3zM355,119.0h1v5.5h-1z"/>
<rect class="c" x="359" y="107.0" width="1" height="12.5" fill="#1f3e6a"/>
<rect class="c" x="358" y="110.0" width="3" height="5.0" fill="#1d3f8c"/>
<rect class="c" x="363" y="108.0" width="1" height="6.5" fill="#1f3e6a"/>
<rect class="c" x="363" y="118.0" width="1" height="1.0" fill="#1f3e6a"/>
<path class="c" fill-rule="evenodd" fill="#1f3e6a" d="M362,114.5h3v3.5h-3zM363,115.5h1v1.5h-1z"/>
<rect class="c" x="368" y="111.5" width="1" height="2.5" fill="#1f3e6a"/>
<rect class="c" x="368" y="122.0" width="1" height="0.5" fill="#1f3e6a"/>
<path class="c" fill-rule="evenodd" fill="#1f3e6a" d="M367,114.0h3v8.0h-3zM368,115.0h1v6.0h-1z"/>
<rect class="c" x="372" y="108.5" width="1" height="11.0" fill="#1f3e6a"/>
<rect class="c" x="371" y="110.0" width="3" height="5.0" fill="#1d3f8c"/>
<rect class="c" x="376" y="116.0" width="1" height="0.5" fill="#1f3e6a"/>
<path class="c" fill-rule="evenodd" fill="#1f3e6a" d="M375,116.5h3v7.0h-3zM376,117.5h1v5.0h-1z"/>
<rect class="c" x="381" y="112.5" width="1" height="9.5" fill="#1f3e6a"/>
<rect class="c" x="380" y="113.0" width="3" height="5.0" fill="#1d3f8c"/>
<rect class="c" x="385" y="117.5" width="1" height="1.5" fill="#1f3e6a"/>
<rect class="c" x="385" y="124.0" width="1" height="2.0" fill="#1f3e6a"/>
<path class="c" fill-rule="evenodd" fill="#1f3e6a" d="M384,119.0h3v5.0h-3zM385,120.0h1v3.0h-1z"/>
<rect class="c" x="390" y="112.5" width="1" height="13.5" fill="#1f3e6a"/>
<rect class="c" x="389" y="113.0" width="3" height="8.0" fill="#1d3f8c"/>
<rect class="c" x="394" y="126.5" width="1" height="19.0" fill="#1f3e6a"/>
<rect class="c" x="393" y="128.5" width="3" height="17.0" fill="#1d3f8c"/>
<rect class="c" x="398" y="130.5" width="1" height="16.5" fill="#1f3e6a"/>
<rect class="c" x="397" y="140.0" width="3" height="2.5" fill="#1d3f8c"/>
<rect class="c" x="403" y="120.0" width="1" height="0.5" fill="#1f3e6a"/>
<path class="c" fill-rule="evenodd" fill="#1f3e6a" d="M402,120.5h3v17.0h-3zM403,121.5h1v15.0h-1z"/>
<rect class="c" x="407" y="125.5" width="1" height="9.0" fill="#1f3e6a"/>
<rect class="c" x="406" y="127.0" width="3" height="5.0" fill="#1d3f8c"/>
<rect class="c" x="412" y="130.0" width="1" height="3.0" fill="#1f3e6a"/>
<path class="c" fill-rule="evenodd" fill="#1f3e6a" d="M411,133.0h3v9.5h-3zM412,134.0h1v7.5h-1z"/>
<rect class="c" x="416" y="132.5" width="1" height="9.5" fill="#1f3e6a"/>
<rect class="c" x="415" y="133.0" width="3" height="9.0" fill="#1d3f8c"/>
<rect class="c" x="420" y="134.5" width="1" height="12.5" fill="#1f3e6a"/>
<rect class="c" x="419" y="135.0" width="3" height="8.5" fill="#1d3f8c"/>
<rect class="c" x="425" y="141.5" width="1" height="16.0" fill="#1f3e6a"/>
<rect class="c" x="424" y="142.0" width="3" height="15.5" fill="#1d3f8c"/>
<rect class="c" x="429" y="142.5" width="1" height="0.5" fill="#1f3e6a"/>
<rect class="c" x="429" y="146.0" width="1" height="4.0" fill="#1f3e6a"/>
<path class="c" fill-rule="evenodd" fill="#1f3e6a" d="M428,143.0h3v3.0h-3zM429,144.0h1v1.0h-1z"/>
<rect class="c" x="433" y="127.0" width="1" height="0.5" fill="#1f3e6a"/>
<path class="c" fill-rule="evenodd" fill="#1f3e6a" d="M432,127.5h3v19.0h-3zM433,128.5h1v17.0h-1z"/>
<rect class="c" x="438" y="102.5" width="1" height="1.0" fill="#1f3e6a"/>
<path class="c" fill-rule="evenodd" fill="#1f3e6a" d="M437,103.5h3v19.0h-3zM438,104.5h1v17.0h-1z"/>
<rect class="c" x="442" y="96.0" width="1" height="9.5" fill="#1f3e6a"/>
<rect class="c" x="441" y="100.0" width="3" height="5.5" fill="#1d3f8c"/>
<rect class="c" x="447" y="101.0" width="1" height="8.0" fill="#1f3e6a"/>
<rect class="c" x="446" y="108.0" width="3" height="1.0" fill="#1d3f8c"/>
<rect class="c" x="451" y="106.0" width="1" height="6.5" fill="#1f3e6a"/>
<rect class="c" x="450" y="108.0" width="3" height="3.0" fill="#1d3f8c"/>
<rect class="c" x="455" y="132.0" width="1" height="16.5" fill="#1f3e6a"/>
<rect class="c" x="454" y="140.5" width="3" height="8.0" fill="#1d3f8c"/>
<rect class="c" x="460" y="136.0" width="1" height="4.0" fill="#1f3e6a"/>
<rect class="c" x="460" y="144.5" width="1" height="2.5" fill="#1f3e6a"/>
<path class="c" fill-rule="evenodd" fill="#1f3e6a" d="M459,140.0h3v4.5h-3zM460,141.0h1v2.5h-1z"/>
<rect class="c" x="464" y="128.5" width="1" height="0.5" fill="#1f3e6a"/>
<rect class="c" x="464" y="136.0" width="1" height="3.0" fill="#1f3e6a"/>
<path class="c" fill-rule="evenodd" fill="#1f3e6a" d="M463,129.0h3v7.0h-3zM464,130.0h1v5.0h-1z"/>
<rect class="c" x="469" y="116.5" width="1" height="8.0" fill="#1f3e6a"/>
<rect class="c" x="468" y="119.5" width="3" height="5.0" fill="#1d3f8c"/>
<rect class="c" x="473" y="119.0" width="1" height="2.0" fill="#1f3e6a"/>
<rect class="c" x="473" y="126.0" width="1" height="1.0" fill="#1f3e6a"/>
<path class="c" fill-rule="evenodd" fill="#1f3e6a" d="M472,121.0h3v5.0h-3zM473,122.0h1v3.0h-1z"/>
<rect class="c" x="477" y="134.5" width="1" height="19.0" fill="#1f3e6a"/>
<rect class="c" x="476" y="143.0" width="3" height="3.0" fill="#1d3f8c"/>
<rect class="c" x="482" y="128.0" width="1" height="0.5" fill="#1f3e6a"/>
<rect class="c" x="482" y="133.0" width="1" height="0.5" fill="#1f3e6a"/>
<path class="c" fill-rule="evenodd" fill="#1f3e6a" d="M481,128.5h3v4.5h-3zM482,129.5h1v2.5h-1z"/>
<rect class="c" x="486" y="134.5" width="1" height="41.0" fill="#1f3e6a"/>
<rect class="c" x="485" y="135.0" width="3" height="40.5" fill="#1d3f8c"/>
<rect class="c" x="490" y="160.0" width="1" height="0.5" fill="#1f3e6a"/>
<rect class="c" x="490" y="194.5" width="1" height="13.5" fill="#1f3e6a"/>
<path class="c" fill-rule="evenodd" fill="#1f3e6a" d="M489,160.5h3v34.0h-3zM490,161.5h1v32.0h-1z"/>
<rect class="c" x="495" y="155.0" width="1" height="12.0" fill="#1f3e6a"/>
<path class="c" fill-rule="evenodd" fill="#1f3e6a" d="M494,167.0h3v3.5h-3zM495,168.0h1v1.5h-1z"/>
<rect class="c" x="499" y="145.0" width="1" height="4.5" fill="#1f3e6a"/>
<path class="c" fill-rule="evenodd" fill="#1f3e6a" d="M498,149.5h3v7.0h-3zM499,150.5h1v5.0h-1z"/>
<rect class="c" x="504" y="126.3" width="1" height="2.7" fill="#1f3e6a"/>
<rect class="c" x="504" y="132.8" width="1" height="2.4" fill="#1f3e6a"/>
<path class="c" fill-rule="evenodd" fill="#1f3e6a" d="M503,129.0h3v3.8h-3zM504,130.0h1v1.8h-1z"/>
<rect class="c" x="508" y="123.2" width="1" height="4.6" fill="#1f3e6a"/>
<rect class="c" x="507" y="125.0" width="3" height="2.8" fill="#1d3f8c"/>
<rect class="c" x="512" y="116.0" width="1" height="2.5" fill="#1f3e6a"/>
<path class="c" fill-rule="evenodd" fill="#1f3e6a" d="M511,118.5h3v3.5h-3zM512,119.5h1v1.5h-1z"/>
<rect class="c" x="517" y="113.0" width="1" height="4.0" fill="#1f3e6a"/>
<rect class="c" x="516" y="114.5" width="3" height="1.0" fill="#1d3f8c"/>
<rect class="c" x="521" y="109.0" width="1" height="1.0" fill="#1f3e6a"/>
<path class="c" fill-rule="evenodd" fill="#1f3e6a" d="M520,103.3h3v5.7h-3zM521,104.3h1v3.7h-1z"/>
<rect class="c" x="526" y="112.0" width="1" height="10.0" fill="#1f3e6a"/>
<rect class="c" x="525" y="113.0" width="3" height="9.0" fill="#1d3f8c"/>
<path class="c" fill-rule="evenodd" fill="#1f3e6a" d="M529,112.0h3v3.0h-3zM530,113.0h1v1.0h-1z"/>
<rect class="c" x="534" y="115.5" width="1" height="7.0" fill="#1f3e6a"/>
<rect class="c" x="533" y="116.0" width="3" height="6.5" fill="#1d3f8c"/>
<rect class="c" x="539" y="126.5" width="1" height="10.0" fill="#1f3e6a"/>
<rect class="c" x="538" y="129.0" width="3" height="6.0" fill="#1d3f8c"/>
<rect class="c" x="543" y="128.5" width="1" height="6.0" fill="#1f3e6a"/>
<rect class="c" x="543" y="145.5" width="1" height="3.0" fill="#1f3e6a"/>
<path class="c" fill-rule="evenodd" fill="#1f3e6a" d="M542,134.5h3v11.0h-3zM543,135.5h1v9.0h-1z"/>
<rect class="c" x="548" y="132.5" width="1" height="8.0" fill="#1f3e6a"/>
<rect class="c" x="547" y="133.0" width="3" height="5.0" fill="#1d3f8c"/>
<rect class="c" x="552" y="118.5" width="1" height="0.5" fill="#1f3e6a"/>
<path class="c" fill-rule="evenodd" fill="#1f3e6a" d="M551,119.0h3v7.5h-3zM552,120.0h1v5.5h-1z"/>
<rect class="c" x="556" y="124.3" width="1" height="1.3" fill="#1f3e6a"/>
<path class="c" fill-rule="evenodd" fill="#1f3e6a" d="M555,118.5h3v5.8h-3zM556,119.5h1v3.8h-1z"/>
<rect class="c" x="561" y="119.5" width="1" height="1.0" fill="#1f3e6a"/>
<rect class="c" x="561" y="123.5" width="1" height="4.5" fill="#1f3e6a"/>
<path class="c" fill-rule="evenodd" fill="#1f3e6a" d="M560,120.5h3v3.0h-3zM561,121.5h1v1.0h-1z"/>
<rect class="c" x="565" y="121.5" width="1" height="1.0" fill="#1f3e6a"/>
<path class="c" fill-rule="evenodd" fill="#1f3e6a" d="M564,122.5h3v5.5h-3zM565,123.5h1v3.5h-1z"/>
<rect class="c" x="569" y="110.0" width="1" height="6.0" fill="#1f3e6a"/>
<rect class="c" x="569" y="124.5" width="1" height="0.5" fill="#1f3e6a"/>
<path class="c" fill-rule="evenodd" fill="#1f3e6a" d="M568,116.0h3v8.5h-3zM569,117.0h1v6.5h-1z"/>
<rect class="c" x="574" y="105.0" width="1" height="9.0" fill="#1f3e6a"/>
<rect class="c" x="573" y="105.5" width="3" height="8.5" fill="#1d3f8c"/>
<rect class="c" x="578" y="108.5" width="1" height="1.5" fill="#1f3e6a"/>
<rect class="c" x="578" y="116.0" width="1" height="1.0" fill="#1f3e6a"/>
<path class="c" fill-rule="evenodd" fill="#1f3e6a" d="M577,110.0h3v6.0h-3zM578,111.0h1v4.0h-1z"/>
<path class="c" fill-rule="evenodd" fill="#1f3e6a" d="M582,104.4h3v12.0h-3zM583,105.4h1v10.0h-1z"/>
<rect class="c" x="587" y="95.7" width="1" height="20.8" fill="#1f3e6a"/>
<rect class="c" x="586" y="96.5" width="3" height="15.9" fill="#1d3f8c"/>
<rect class="c" x="591" y="112.5" width="1" height="23.5" fill="#1f3e6a"/>
<rect class="c" x="590" y="114.0" width="3" height="19.0" fill="#1d3f8c"/>
<rect class="c" x="596" y="113.5" width="1" height="0.5" fill="#1f3e6a"/>
<rect class="c" x="596" y="130.5" width="1" height="5.5" fill="#1f3e6a"/>
<path class="c" fill-rule="evenodd" fill="#1f3e6a" d="M595,114.0h3v16.5h-3zM596,115.0h1v14.5h-1z"/>
<rect class="c" x="600" y="116.3" width="1" height="8.0" fill="#1f3e6a"/>
<rect class="c" x="599" y="122.0" width="3" height="1.0" fill="#1d3f8c"/>
<rect class="c" x="605" y="112.5" width="1" height="1.5" fill="#1f3e6a"/>
<rect class="c" x="605" y="119.0" width="1" height="2.0" fill="#1f3e6a"/>
<path class="c" fill-rule="evenodd" fill="#1f3e6a" d="M604,114.0h3v5.0h-3zM605,115.0h1v3.0h-1z"/>
<rect class="c" x="609" y="113.5" width="1" height="6.5" fill="#1f3e6a"/>
<rect class="c" x="608" y="114.0" width="3" height="6.0" fill="#1d3f8c"/>
<rect class="c" x="613" y="122.5" width="1" height="21.5" fill="#1f3e6a"/>
<rect class="c" x="612" y="124.5" width="3" height="16.5" fill="#1d3f8c"/>
<rect class="c" x="618" y="138.5" width="1" height="14.5" fill="#1f3e6a"/>
<rect class="c" x="617" y="142.0" width="3" height="10.0" fill="#1d3f8c"/>
<rect class="c" x="622" y="170.0" width="1" height="18.5" fill="#1f3e6a"/>
<rect class="c" x="621" y="174.0" width="3" height="14.5" fill="#1d3f8c"/>
<text y="533" fill="#74123c"><tspan x="37.00" font-size="13.3" textLength="15.94" lengthAdjust="spacingAndGlyphs">--</tspan><tspan x="51.37" font-size="13.3" textLength="8.38" lengthAdjust="spacingAndGlyphs">5</tspan><tspan x="58.76" font-size="13.3" textLength="12.26" lengthAdjust="spacingAndGlyphs">日</tspan><tspan x="71.56" font-size="13.3" textLength="55.06" lengthAdjust="spacingAndGlyphs">移動平均</tspan></text>
<text y="533" fill="#9a28a8"><tspan x="136.10" font-size="13.3" textLength="12.68" lengthAdjust="spacingAndGlyphs">—</tspan><tspan x="148.31" font-size="13.3" textLength="14.68" lengthAdjust="spacingAndGlyphs">25</tspan><tspan x="161.59" font-size="13.3" textLength="12.71" lengthAdjust="spacingAndGlyphs">日</tspan><tspan x="174.47" font-size="13.3" textLength="54.86" lengthAdjust="spacingAndGlyphs">移動平均</tspan></text>
</svg></body></html>
